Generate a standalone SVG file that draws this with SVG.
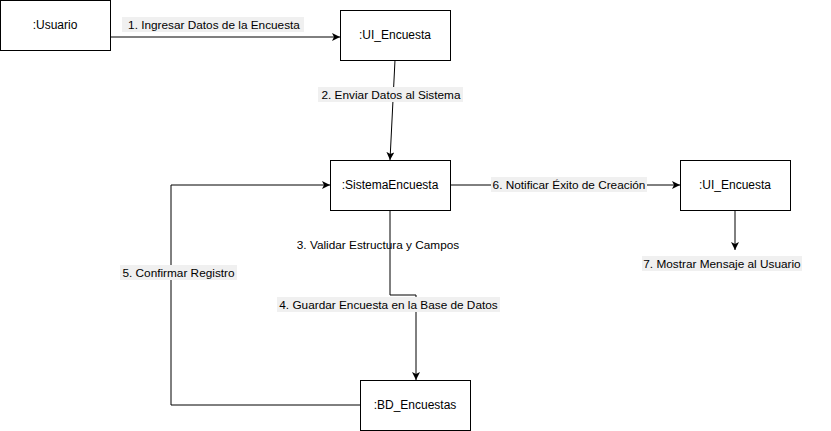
<svg xmlns="http://www.w3.org/2000/svg" width="831" height="431" viewBox="0 0 831 431">
<style>
.box{fill:#fff;stroke:#000;stroke-width:1}
.edge{fill:none;stroke:#000;stroke-width:1}
.nt{font-family:"Liberation Sans",Arial,sans-serif;font-size:12px;fill:#000;text-anchor:middle}
.lt{font-family:"Liberation Sans",Arial,sans-serif;font-size:11.8px;fill:#000;text-anchor:middle}
.lbg{fill:#f0f0f0}
</style>
<defs>
<marker id="arr" markerUnits="userSpaceOnUse" markerWidth="10" markerHeight="10" refX="8" refY="4" orient="auto">
<path d="M0,0 L8,4 L0,8 L2,4 z" fill="#000"/>
</marker>
</defs>
<rect width="831" height="431" fill="#fff"/>
<g id="connectors">
<path class="edge" d="M110,37 H340" marker-end="url(#arr)"/>
<path class="edge" d="M395,60 L390,160" marker-end="url(#arr)"/>
<path class="edge" d="M390,210 V295 H416 V380" marker-end="url(#arr)"/>
<path class="edge" d="M360,405 H171 V185 H330" marker-end="url(#arr)"/>
<path class="edge" d="M450,185 H680" marker-end="url(#arr)"/>
<path class="edge" d="M735,210 V250" marker-end="url(#arr)"/>
</g>
<g id="labels">
<rect class="lbg" x="122" y="17" width="182" height="15"/>
<text class="lt" x="214" y="29">1. Ingresar Datos de la Encuesta</text>
<rect class="lbg" x="318" y="87" width="145" height="15"/>
<text class="lt" x="391" y="99">2. Enviar Datos al Sistema</text>
<text class="lt" x="378" y="249">3. Validar Estructura y Campos</text>
<rect class="lbg" x="277" y="297" width="223" height="15"/>
<text class="lt" x="388.5" y="309">4. Guardar Encuesta en la Base de Datos</text>
<rect class="lbg" x="120" y="265" width="117" height="15"/>
<text class="lt" x="178.5" y="277">5. Confirmar Registro</text>
<rect class="lbg" x="491" y="177" width="156" height="15"/>
<text class="lt" x="569" y="189">6. Notificar Éxito de Creación</text>
<rect class="lbg" x="642" y="256" width="160" height="15"/>
<text class="lt" x="722" y="268">7. Mostrar Mensaje al Usuario</text>
</g>
<g id="usuario">
<rect class="box" x="0.5" y="0.5" width="110" height="50"/>
<text class="nt" x="55" y="29">:Usuario</text>
</g>
<g id="ui_encuesta">
<rect class="box" x="340.5" y="10.5" width="110" height="50"/>
<text class="nt" x="395" y="39">:UI_Encuesta</text>
</g>
<g id="sistema_encuesta">
<rect class="box" x="330.5" y="160.5" width="120" height="50"/>
<text class="nt" x="390" y="189">:SistemaEncuesta</text>
</g>
<g id="ui_encuesta2">
<rect class="box" x="680.5" y="160.5" width="110" height="50"/>
<text class="nt" x="735" y="189">:UI_Encuesta</text>
</g>
<g id="bd_encuestas">
<rect class="box" x="360.5" y="380.5" width="110" height="50"/>
<text class="nt" x="415" y="409">:BD_Encuestas</text>
</g>
</svg>
